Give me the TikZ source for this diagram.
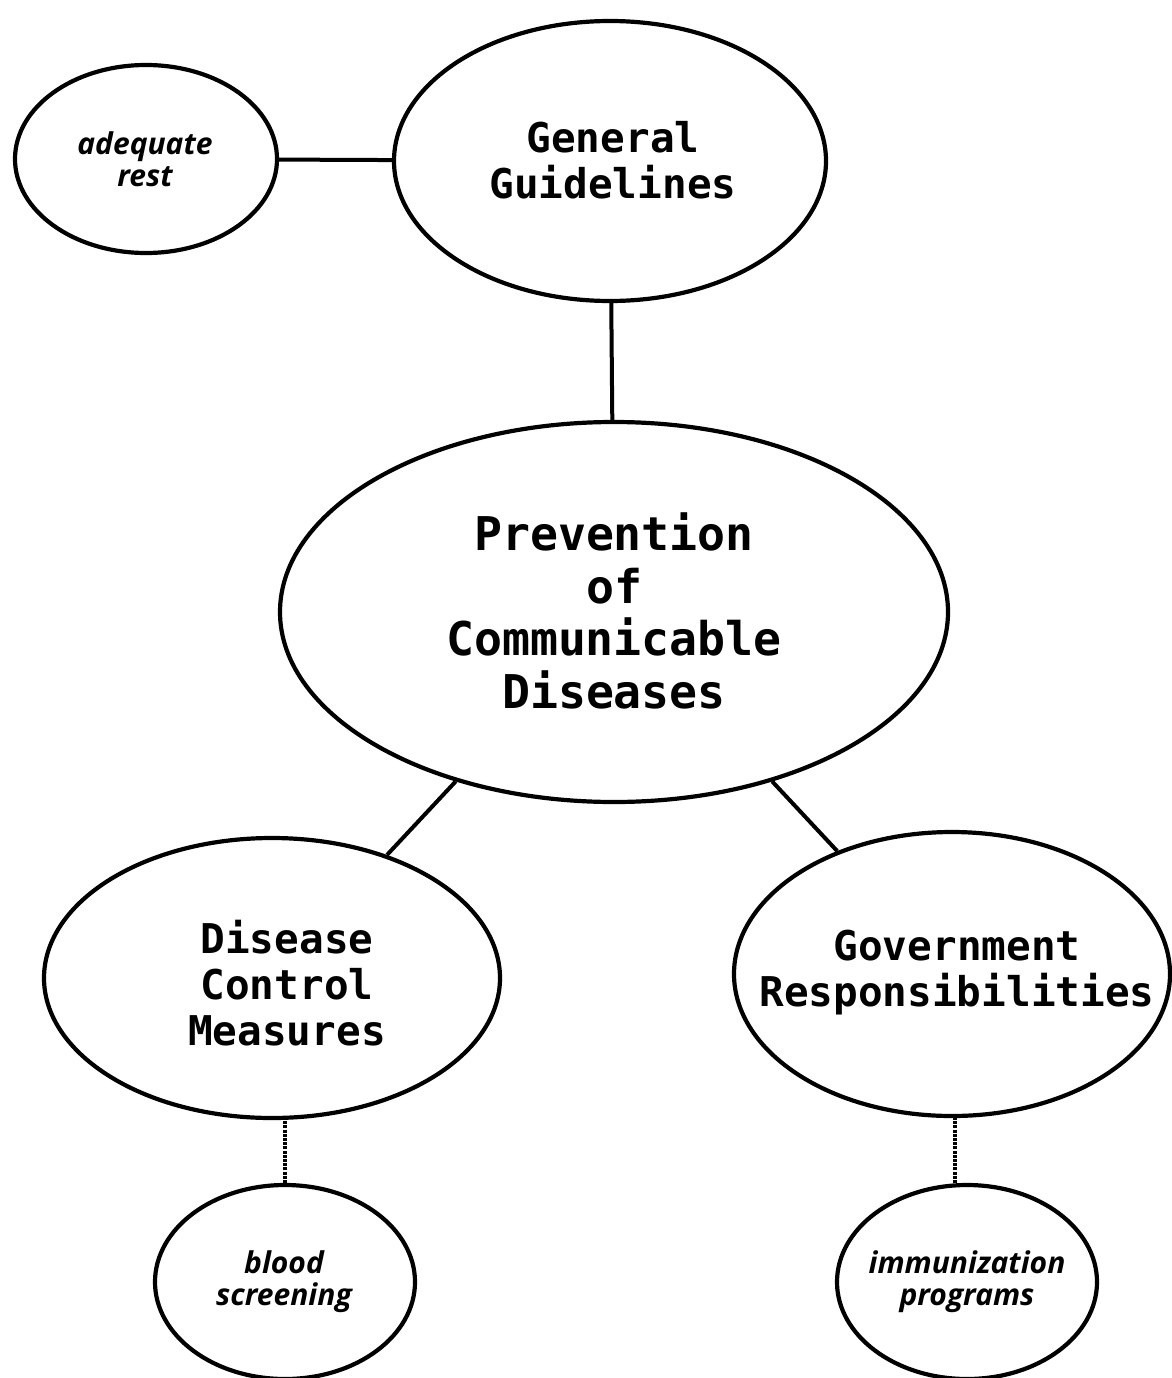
\documentclass[tikz,border=0pt]{standalone}
\usepackage{fontspec}
\usetikzlibrary{shapes.geometric}
\newfontfamily\boxfont{DejaVu Sans Mono}
\newfontfamily\smallfont{Open Sans}
\begin{document}
\begin{tikzpicture}[x=1pt,y=-1pt,
  oval/.style={draw=black,line width=4.2pt,ellipse,inner sep=0pt,fill=none},
  bigtext/.style={align=center,font=\boxfont\bfseries\fontsize{41}{46}\selectfont,inner sep=0pt},
  hugetext/.style={align=center,font=\boxfont\bfseries\fontsize{46.5}{52.5}\selectfont,inner sep=0pt},
  smalltext/.style={align=center,font=\smallfont\bfseries\itshape\fontsize{30}{32}\selectfont,inner sep=0pt},
  link/.style={draw=black,line width=4pt},
  dotlink/.style={draw=black,line width=4pt,dash pattern=on 3pt off 1.2pt}]
\useasboundingbox[fill=white] (0,0) rectangle (1171,1378);
% ellipses
\node[oval,minimum width=262pt,minimum height=188pt] (ar) at (146,159) {};
\node[oval,minimum width=432pt,minimum height=280pt] (gg) at (610,161) {};
\node[oval,minimum width=668pt,minimum height=380pt] (pcd) at (614,612) {};
\node[oval,minimum width=456pt,minimum height=280pt] (dcm) at (272,978) {};
\node[oval,minimum width=436pt,minimum height=284pt] (gr) at (952,974) {};
\node[oval,minimum width=260pt,minimum height=194pt] (bs) at (285,1282) {};
\node[oval,minimum width=260pt,minimum height=194pt] (ip) at (967,1282) {};
% texts
\node[smalltext] (art) at (145,159) {adequate\\rest};
\node[bigtext] (ggt) at (613,160) {General\\Guidelines};
\node[hugetext] (pcdt) at (614,611) {Prevention\\of\\Communicable\\Diseases};
\node[bigtext] (dcmt) at (287,983) {Disease\\Control\\Measures};
\node[bigtext] (grt) at (957,973) {Government\\Responsibilities};
\node[smalltext] (bst) at (284,1282) {blood\\screening};
\node[smalltext] (ipt) at (967,1282) {immunization\\programs};
% connectors
\coordinate (ipx) at (955,1150);
\draw[link] (ar) -- (gg);
\draw[link] (gg) -- (pcd);
\draw[link] (pcd) -- (dcm);
\draw[link] (pcd) -- (gr);
\draw[dotlink] (bs.north) -- (bs.north |- dcm.south);
\draw[dotlink] (ipx |- ip.north) -- (ipx |- gr.south);
\end{tikzpicture}
\end{document}
